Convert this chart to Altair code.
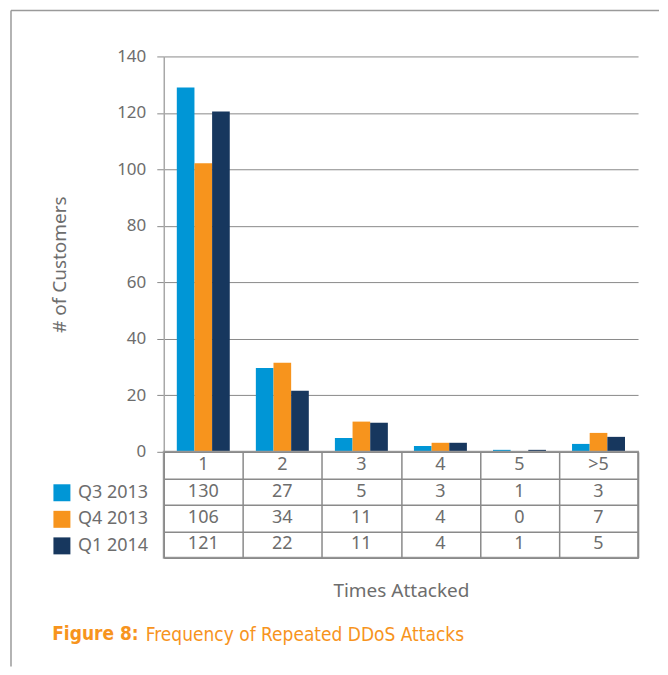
import altair as alt
import pandas as pd

categories = ["1", "2", "3", "4", "5", ">5"]
series = ["Q3 2013", "Q4 2013", "Q1 2014"]
colors = ["#0096d6", "#f7941d", "#17375e"]

# bar heights as drawn in the picture
bar_q3 = [129.0, 29.7, 4.9, 2.1, 0.7, 2.8]
bar_q4 = [102.2, 31.5, 10.7, 3.2, 0.3, 6.7]
bar_q1 = [120.5, 21.6, 10.3, 3.2, 0.7, 5.3]

# values printed in the data table
tab_q3 = [130, 27, 5, 3, 1, 3]
tab_q4 = [106, 34, 11, 4, 0, 7]
tab_q1 = [121, 22, 11, 4, 1, 5]

y_ticks = [0, 20, 40, 60, 80, 100, 120, 140]

FONT = "Noto Sans"
CAPFONT = "DejaVu Sans Condensed, Liberation Sans Narrow, Roboto Condensed, Roboto"
GRAY = "#6d6d6d"
LINE = "#8a8a8a"
FRAME = "#9a9a9a"
ORANGE = "#f7941d"

bars_df = pd.DataFrame(
    [
        {"cat": c, "series": s, "value": v}
        for s, vals in zip(series, [bar_q3, bar_q4, bar_q1])
        for c, v in zip(categories, vals)
    ]
)

row_keys = ["hdr"] + series
table_rows = []
for c in categories:
    table_rows.append({"cat": c, "row": "hdr", "label": c})
for s, vals in zip(series, [tab_q3, tab_q4, tab_q1]):
    for c, v in zip(categories, vals):
        table_rows.append({"cat": c, "row": s, "label": str(v)})
table_df = pd.DataFrame(table_rows)

color = alt.Color(
    "series:N",
    sort=series,
    scale=alt.Scale(domain=series, range=colors),
    legend=alt.Legend(
        title=None,
        orient="none",
        legendX=-111,
        legendY=428,
        symbolType="square",
        symbolSize=289,
        symbolStrokeWidth=0,
        symbolOpacity=1,
        labelFontSize=18,
        labelFont=FONT,
        labelColor=GRAY,
        labelOffset=7,
        rowPadding=8.6,
    ),
)

bars = (
    alt.Chart(bars_df)
    .mark_bar()
    .encode(
        x=alt.X(
            "cat:N",
            sort=categories,
            scale=alt.Scale(paddingInner=0.33, paddingOuter=0.165),
            axis=None,
        ),
        xOffset=alt.XOffset("series:N", sort=series, scale=alt.Scale(paddingInner=0)),
        y=alt.Y(
            "value:Q",
            scale=alt.Scale(domain=[0, 140], nice=False),
            axis=alt.Axis(
                values=y_ticks,
                title="# of Customers",
                titleFont=FONT,
                titleFontSize=19,
                titleFontWeight="normal",
                titleColor=GRAY,
                titlePadding=47,
                titleY=208,
                labelFont=FONT,
                labelFontSize=17,
                labelColor=GRAY,
                labelPadding=11,
                tickSize=7,
                tickColor=LINE,
                domainColor="#a8a8a8",
                domainWidth=1.5,
                grid=True,
                gridColor=LINE,
                gridWidth=1,
            ),
        ),
        color=color,
    )
)

# decorative page frame (top and left edges of the figure box)
frame_df = pd.DataFrame({"k": [0]})
frame_top = alt.Chart(frame_df).mark_rule(color=FRAME, strokeWidth=1.5).encode(
    x=alt.value(-153), x2=alt.value(496), y=alt.value(-46)
)
frame_left = alt.Chart(frame_df).mark_rule(color=FRAME, strokeWidth=1.5).encode(
    x=alt.value(-153), y=alt.value(-46), y2=alt.value(611)
)

top = alt.layer(bars, frame_top, frame_left).properties(
    width=475, height=396, view=alt.ViewBackground(stroke=None)
)

table = (
    alt.Chart(table_df)
    .mark_text(font=FONT, fontSize=18, color=GRAY)
    .encode(
        x=alt.X(
            "cat:N",
            sort=categories,
            scale=alt.Scale(paddingInner=0, paddingOuter=0),
            axis=alt.Axis(
                title="Times Attacked",
                titleFont=FONT,
                titleFontSize=19,
                titleFontWeight="normal",
                titleColor=GRAY,
                titlePadding=24,
                labels=False,
                ticks=False,
                domain=False,
                grid=True,
                tickBand="extent",
                gridColor=LINE,
                gridWidth=1.5,
            ),
        ),
        y=alt.Y(
            "row:N",
            sort=row_keys,
            scale=alt.Scale(paddingInner=0, paddingOuter=0),
            axis=alt.Axis(
                title=None,
                labels=False,
                ticks=False,
                domain=False,
                grid=True,
                tickBand="extent",
                gridColor=LINE,
                gridWidth=1.5,
            ),
        ),
        text="label:N",
    )
    .properties(
        width=475,
        height=106,
        view=alt.ViewBackground(stroke="#a0a0a0", strokeWidth=2),
        title=alt.TitleParams(
            "Frequency of Repeated DDoS Attacks",
            orient="bottom",
            anchor="start",
            font=CAPFONT,
            fontSize=19,
            fontWeight="normal",
            color=ORANGE,
            dx=-18,
            offset=25,
        ),
    )
)

chart = (
    alt.vconcat(top, table, spacing=0, bounds="flush")
    .properties(
        padding={"left": 2, "top": 1, "right": 0, "bottom": 0},
        title=alt.TitleParams(
            "Figure 8:",
            orient="bottom",
            anchor="start",
            font=CAPFONT,
            fontSize=19,
            fontWeight="bold",
            color=ORANGE,
            dx=42,
            dy=-46,
        ),
    )
)

chart.save("out.html", embed_options={"renderer": "svg", "actions": False})
